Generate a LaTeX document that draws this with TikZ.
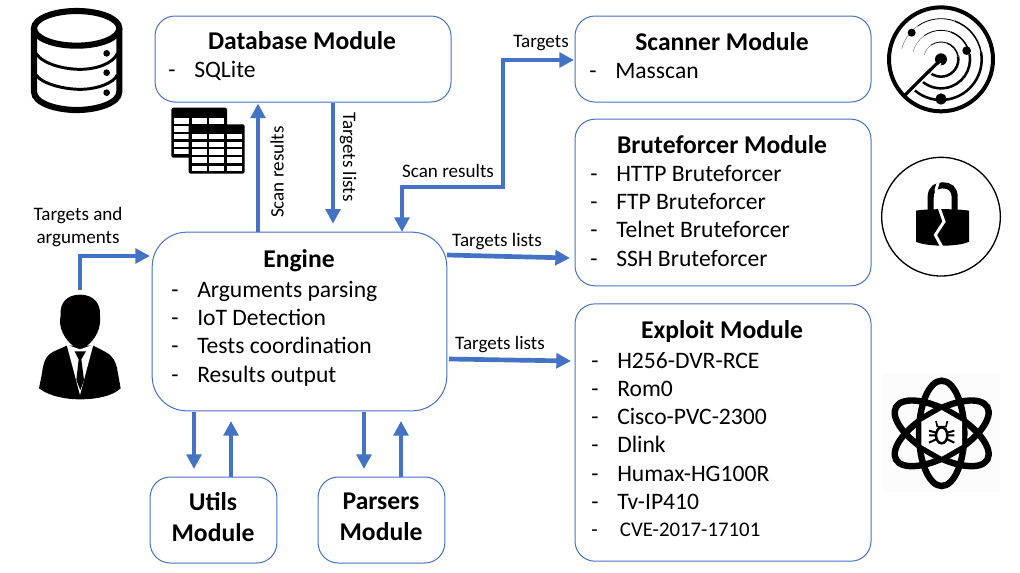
\documentclass[tikz,border=0pt]{standalone}
\usepackage{fontspec}
\setmainfont{Carlito}
\usetikzlibrary{arrows.meta,calc}
\definecolor{bl}{HTML}{4472C4}
\tikzset{
  modbox/.style={draw=bl,line width=0.75pt,rounded corners=#1,fill=white,inner sep=0pt},
  modbox/.default=15pt,
  conn/.style={draw=bl,line width=3.5pt,-{Triangle[width=11pt,length=11pt]}},
  connboth/.style={draw=bl,line width=3.5pt,{Triangle[width=11pt,length=11pt]}-{Triangle[width=11pt,length=11pt]}},
  ttl/.style={font=\bfseries\fontsize{19.2}{23}\selectfont,inner sep=0pt},
  itm/.style={font=\fontsize{17.7}{20}\selectfont,inner sep=0pt,anchor=base west},
  lbl/.style={font=\fontsize{14.3}{17}\selectfont,inner sep=0pt,align=center},
  zoomed/.style={x=.25pt,y=-.25pt}
}
\newcommand{\li}[1]{\makebox[19.5pt][l]{-}#1}
\begin{document}
\begin{tikzpicture}[x=.75pt,y=-.75pt]
\useasboundingbox[fill=white] (0,0) rectangle (1020,572);
% ---- boxes
\node[modbox,minimum width=222pt,minimum height=64.5pt] (db) at (303,59) {};
\node[modbox,minimum width=222pt,minimum height=64.5pt] (scanner) at (723,59) {};
\node[modbox,minimum width=222pt,minimum height=125pt] (brute) at (723,202.5) {};
\node[modbox=26pt,minimum width=221pt,minimum height=134pt] (engine) at (299.5,321.5) {};
\node[modbox,minimum width=222pt,minimum height=193pt] (exploit) at (723,432.5) {};
\node[modbox,minimum width=95pt,minimum height=64.5pt] (utils) at (213.5,520) {};
\node[modbox,minimum width=95pt,minimum height=64.5pt] (parsers) at (381.5,520) {};
% ---- titles
\node[ttl] (tdb) at (302,41) {Database Module};
\node[ttl] (tsc) at (722,42) {Scanner Module};
\node[ttl] (tbr) at (722,145) {Bruteforcer Module};
\node[ttl] (tex) at (722,332) {Exploit Module};
\node[ttl] (ten) at (299,261) {Engine};
\node[ttl,align=center,font=\bfseries\fontsize{19.2}{23}\selectfont] (tut) at (213,517) {Utils\\Module};
\node[ttl,align=center,font=\bfseries\fontsize{19.2}{23}\selectfont] (tpa) at (381,517) {Parsers\\Module};
% ---- lists
\node[itm] (i1) at (168,77) {\li{SQLite}};
\node[itm] (i2) at (589,78) {\li{Masscan}};
\node[itm] (b1) at (590,181) {\li{HTTP Bruteforcer}};
\node[itm] (b2) at (590,209) {\li{FTP Bruteforcer}};
\node[itm] (b3) at (590,237) {\li{Telnet Bruteforcer}};
\node[itm] (b4) at (590,266) {\li{SSH Bruteforcer}};
\node[itm] (e1) at (171,297) {\li{Arguments parsing}};
\node[itm] (e2) at (171,325) {\li{IoT Detection}};
\node[itm] (e3) at (171,353) {\li{Tests coordination}};
\node[itm] (e4) at (171,382) {\li{Results output}};
\node[itm] (x1) at (591,368) {\li{H256-DVR-RCE}};
\node[itm] (x2) at (591,396) {\li{Rom0}};
\node[itm] (x3) at (591,424) {\li{Cisco-PVC-2300}};
\node[itm] (x4) at (591,452) {\li{Dlink}};
\node[itm] (x5) at (591,481) {\li{Humax-HG100R}};
\node[itm] (x6) at (591,509) {\li{Tv-IP410}};
\node[itm,font=\fontsize{15.6}{18}\selectfont] (x7) at (591,536) {\makebox[21.5pt][l]{-}CVE-2017-17101};
% ---- connector labels
\node[lbl] (l1) at (78,227) {Targets and\\[0pt]arguments};
\node[lbl,rotate=90] (l2) at (277,172) {Scan results};
\node[lbl,rotate=-90] (l3) at (348,157) {Targets lists};
\node[lbl] (l4) at (541,43) {Targets};
\node[lbl] (l5) at (448,171) {Scan results};
\node[lbl] (l6) at (497,242) {Targets lists};
\node[lbl] (l7) at (500,345) {Targets lists};
% ---- connectors
\coordinate (xa) at (258,0);
\coordinate (xb) at (333,0);
\draw[conn] (xa |- engine.north) -- ($(xa |- db.south)+(0,1)$);
\draw[conn] (xb |- db.south) -- ($(xb |- engine.north)+(0,-8)$);
\coordinate (u0) at (80,290);
\draw[conn] (u0) |- (150,256);
\coordinate (sa) at (402,232);
\coordinate (sb) at (574,60);
\draw[connboth] (sa) -- (402,187) -- (503,187) -- (503,60) -- (sb);
\coordinate (bs) at (447,255); \coordinate (be) at (570,258);
\draw[conn] (bs) -- (be);
\coordinate (xs) at (449,359); \coordinate (xe) at (571,361);
\draw[conn] (xs) -- (xe);
\coordinate (ua) at (194,412); \coordinate (ub) at (194,469);
\draw[conn] (ua) -- (ub);
\coordinate (uc) at (231,0);
\draw[conn] (uc |- utils.north) -- (231,421);
\coordinate (pa) at (364,412); \coordinate (pb) at (364,469);
\draw[conn] (pa) -- (pb);
\coordinate (pc) at (401,0);
\draw[conn] (pc |- parsers.north) -- (401,421);
% ---- database icon
\begin{scope}[shift={(0,0)},zoomed,line width=4.4pt,black]
\draw[line width=4.6pt] (230,85) ellipse [x radius=128,y radius=52];
\draw[line width=4.6pt] (102,85) -- (102,275) .. controls (102,310) and (170,330) .. (230,330) .. controls (290,330) and (358,310) .. (358,275) -- (358,85);
\draw[line width=2.2pt] (108,160) .. controls (130,195) and (200,208) .. (240,208) .. controls (290,208) and (340,190) .. (352,160);
\draw[line width=2.2pt] (108,225) .. controls (130,255) and (200,268) .. (240,268) .. controls (290,268) and (340,250) .. (352,225);
\fill (320,160) circle (10); \fill (320,218) circle (10); \fill (320,278) circle (10);
\end{scope}
% ---- tables icon
\begin{scope}[zoomed]
\fill[black,rounded corners=1.5pt] (514,323) rectangle (681,473);
\foreach \y/\h in {353/18,378/17,401/17,425/15,447/16}
  \foreach \x in {522,575,627}
    \fill[white] (\x,\y) rectangle +(45,\h);
\fill[black,rounded corners=1.5pt] (566,373) rectangle (734,521);
\foreach \y/\h in {403/15,425/15,447/18,472/18,497/16}
  \foreach \x in {575,627,680}
    \fill[white] (\x,\y) rectangle +(45,\h);
\end{scope}
% ---- person icon
\begin{scope}[shift={(20,280)},zoomed]
\fill (180,44) .. controls (225,44) and (242,75) .. (240,105) .. controls (240,115) and (242,125) .. (239,135) .. controls (235,165) and (205,205) .. (180,205) .. controls (155,205) and (125,165) .. (121,135) .. controls (118,125) and (122,115) .. (122,100) .. controls (120,70) and (140,44) .. (180,44) -- cycle;
\fill (140,197) -- (100,215) .. controls (75,228) and (70,250) .. (66,280) -- (57,325) .. controls (90,350) and (140,358) .. (180,358) .. controls (225,358) and (275,350) .. (302,325) -- (293,275) .. controls (288,245) and (280,228) .. (255,215) -- (220,197) -- cycle;
\fill[white] (140,194) -- (180,345) -- (220,194) -- (180,208) -- cycle;
\fill (164,214) -- (198,214) -- (184,238) -- (192,300) -- (181,330) -- (169,300) -- (176,238) -- cycle;
\end{scope}
% ---- radar icon
\begin{scope}[shift={(860,0)},zoomed]
\draw[line width=3pt] (243,178) circle (156);
\fill (243,178) circle (18);
\draw[line width=2.4pt] (243,178) -- (135,285);
\foreach \r in {52,87,122}{
  \draw[line width=.3pt,black!60] ([shift={(195:\r)}]243,178) arc[start angle=195,end angle=235,radius=\r];
  \draw[line width=.6pt] ([shift={(235:\r)}]243,178) arc[start angle=235,end angle=290,radius=\r];
  \draw[line width=1.1pt] ([shift={(290:\r)}]243,178) arc[start angle=290,end angle=350,radius=\r];
  \draw[line width=1.9pt] ([shift={(350:\r)}]243,178) arc[start angle=350,end angle=490,radius=\r];
}
\fill (320,152) circle (13);
\fill (155,98) circle (12);
\fill (243,297) circle (17);
\draw[white,line width=1pt] (150,281) -- (243,190);
\end{scope}
% ---- lock icon
\begin{scope}[shift={(860,0)},zoomed]
\draw[line width=1pt] (243,650) circle (178);
\draw[line width=4.6pt] (212,640) -- (212,592) .. controls (212,565) and (230,556) .. (248,556) .. controls (268,556) and (284,565) .. (284,592) -- (284,640);
\fill (168,632) .. controls (200,626) and (295,626) .. (327,632) -- (327,725) .. controls (295,741) and (200,741) .. (168,725) -- cycle;
\draw[white,line width=2.2pt] (238,535) -- (228,570) -- (238,625) -- (252,665) -- (226,705) -- (248,745);
\end{scope}
% ---- atom icon
\begin{scope}[shift={(860,360)},zoomed]
\fill[black!1] (65,40) rectangle (420,395);
\foreach \a in {0,60,120}
  \draw[line width=4.8pt,rotate around={\a:(245,220)}] (245,220) ellipse [x radius=68,y radius=158];
\fill[white] (245,150) -- (306,185) -- (306,255) -- (245,290) -- (184,255) -- (184,185) -- cycle;
\draw[line width=1.9pt] (245,226) ellipse [x radius=17,y radius=24];
\draw[line width=1.2pt] (228,183) -- (232,200) -- (258,200) -- (262,183);
\draw[line width=1.5pt] (207,212) -- (228,218) (283,212) -- (262,218) (207,226) -- (228,226) (283,226) -- (262,226) (207,248) -- (228,238) (283,248) -- (262,238);
\end{scope}
\end{tikzpicture}
\end{document}
